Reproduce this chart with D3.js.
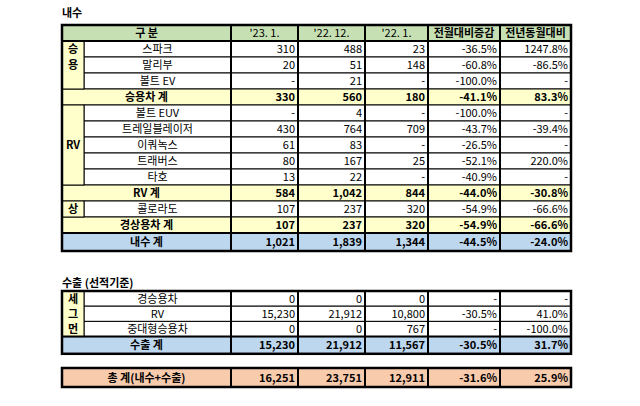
<!DOCTYPE html>
<html><head><meta charset="utf-8">
<script src="https://cdn.jsdelivr.net/npm/d3@7"></script>
<style>body{margin:0;background:#fff}text{font-family:"Noto Sans CJK KR","Noto Sans",sans-serif;font-size:11px}</style>
</head><body><svg id="c" width="640" height="406"></svg>
<script>
var headers = ["구  분", "'23. 1.", "'22. 12.", "'22. 1.", "전월대비증감", "전년동월대비"];
var domNames = ["스파크","말리부","볼트 EV","승용차 계","볼트 EUV","트레일블레이저","이쿼녹스","트래버스","타호","RV 계","콜로라도","경상용차 계","내수 계"];
var domJan23 = ["310","20","-","330","-","430","61","80","13","584","107","107","1,021"];
var domDec22 = ["488","51","21","560","4","764","83","167","22","1,042","237","237","1,839"];
var domJan22 = ["23","148","-","180","-","709","-","25","-","844","320","320","1,344"];
var domMoM = ["-36.5%","-60.8%","-100.0%","-41.1%","-100.0%","-43.7%","-26.5%","-52.1%","-40.9%","-44.0%","-54.9%","-54.9%","-44.5%"];
var domYoY = ["1247.8%","-86.5%","-","83.3%","-","-39.4%","-","220.0%","-","-30.8%","-66.6%","-66.6%","-24.0%"];
var domType = ["d","d","d","s","d","d","d","d","d","s","d","s","t"];
var domSegs = [{label:["승","용"], from:0, to:3}, {label:["RV"], from:4, to:9}, {label:["상"], from:10, to:11}];

var expNames = ["경승용차","RV","중대형승용차","수출 계"];
var expJan23 = ["0","15,230","0","15,230"];
var expDec22 = ["0","21,912","0","21,912"];
var expJan22 = ["0","10,800","767","11,567"];
var expMoM = ["-","-30.5%","-","-30.5%"];
var expYoY = ["-","41.0%","-100.0%","31.7%"];
var expType = ["d","d","d","t"];
var expSegs = [{label:["세","그","먼"], from:0, to:3}];

var totalRow = ["총  계(내수+수출)","16,251","23,751","12,911","-31.6%","25.9%"];

var svg = d3.select("#c");
var xs = [62, 84, 231, 298, 365, 428, 500, 571];
var fills = {d:"#fff", s:"#ffffcc", t:"#bdd7ee", h:"#c6e0b4", seg:"#ffffcc", tot:"#f8cbad"};

function cell(g, x0, x1, y0, y1, fill, txt, align, bold) {
  g.append("rect").attr("x", x0).attr("y", y0).attr("width", x1 - x0).attr("height", y1 - y0)
    .attr("fill", fill).attr("stroke", "#000").attr("stroke-width", 1);
  if (txt == null) return;
  g.append("text").attr("x", align === "end" ? x1 - 3 : (x0 + x1) / 2).attr("y", (y0 + y1) / 2 + 4)
    .attr("text-anchor", align).attr("font-weight", bold ? "bold" : null).text(txt);
}

function frame(g, y0, y1, extraH) {
  xs.slice(2, 7).forEach(function (x) {
    g.append("line").attr("x1", x).attr("x2", x).attr("y1", y0).attr("y2", y1)
      .attr("stroke", "#000").attr("stroke-width", 2);
  });
  (extraH || []).forEach(function (y) {
    g.append("line").attr("x1", xs[0]).attr("x2", xs[7]).attr("y1", y).attr("y2", y)
      .attr("stroke", "#000").attr("stroke-width", 2);
  });
  g.append("rect").attr("x", xs[0]).attr("y", y0).attr("width", xs[7] - xs[0]).attr("height", y1 - y0)
    .attr("fill", "none").attr("stroke", "#000").attr("stroke-width", 2.5);
}

function table(y0, rowH, names, cols, types, segs, header, headH) {
  var g = svg.append("g");
  var y = y0, lines = [];
  if (header) {
    cell(g, xs[0], xs[2], y, y + headH, fills.h, headers[0], "middle", true);
    headers.slice(1).forEach(function (h, i) {
      cell(g, xs[i + 2], xs[i + 3], y, y + headH, fills.h, h, "middle", i >= 3);
    });
    y += headH;
    lines.push(y);
  }
  var yScale = d3.scaleLinear().domain([0, 1]).range([y, y + rowH]);
  names.forEach(function (n, r) {
    var t = types[r], a = yScale(r), b = yScale(r + 1);
    if (t === "t") { b += 2; lines.push(a); }
    var f = fills[t], bold = t !== "d";
    if (t === "d") cell(g, xs[1], xs[2], a, b, f, n, "middle", false);
    else cell(g, xs[0], xs[2], a, b, f, n, "middle", true);
    cols.forEach(function (c, i) { cell(g, xs[i + 2], xs[i + 3], a, b, f, c[r], "end", bold); });
  });
  segs.forEach(function (s) {
    var a = yScale(s.from), b = yScale(s.to), n = s.label.length;
    cell(g, xs[0], xs[1], a, b, fills.seg, null);
    var step = (b - a) / (s.to - s.from);
    var start = n === 1 ? (a + b) / 2 - step / 2 : a;
    s.label.forEach(function (l, k) {
      g.append("text").attr("x", (xs[0] + xs[1]) / 2).attr("y", start + step * k + step / 2 + 4)
        .attr("text-anchor", "middle").attr("font-weight", "bold").text(l);
    });
  });
  frame(g, y0, yScale(names.length) + 2, lines);
  return g;
}

svg.append("text").attr("x", 62).attr("y", 17).attr("font-weight", "bold").text("내수");
table(25, 16, domNames, [domJan23, domDec22, domJan22, domMoM, domYoY], domType, domSegs, true, 16);
svg.append("text").attr("x", 62).attr("y", 287).attr("font-weight", "bold").text("수출 (선적기준)");
table(291, 15.2, expNames, [expJan23, expDec22, expJan22, expMoM, expYoY], expType, expSegs, false);

var tg = svg.append("g");
cell(tg, xs[0], xs[2], 368, 387, fills.tot, totalRow[0], "middle", true);
totalRow.slice(1).forEach(function (v, i) { cell(tg, xs[i + 2], xs[i + 3], 368, 387, fills.tot, v, "end", true); });
frame(tg, 368, 387);
</script></body></html>
